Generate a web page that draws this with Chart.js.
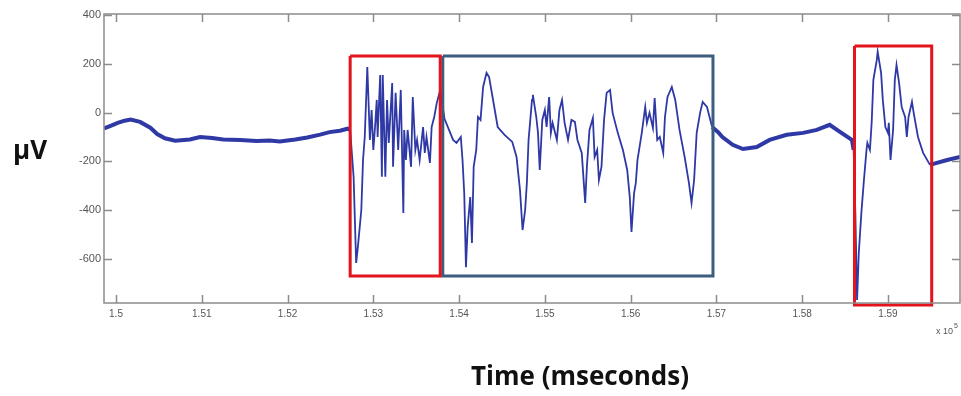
<!DOCTYPE html>
<html>
<head>
<meta charset="utf-8">
<script src="https://cdn.jsdelivr.net/npm/chart.js@4.4.1/dist/chart.umd.min.js"></script>
<style>
  html, body { margin: 0; padding: 0; background: #fff; }
  #wrap { width: 961px; height: 396px; position: relative; }
</style>
</head>
<body>
<div id="wrap"><canvas id="eeg" width="961" height="396"></canvas></div>
<script>
// time in ms
const timeMs = [
  149860, 149930, 150020, 150100, 150170, 150280, 150400, 150480, 150570, 150690,
  150860, 150980, 151120, 151250, 151450, 151640, 151790, 151910, 152090, 152230,
  152380, 152490, 152610, 152700,
  // first red box
  152730, 152770, 152800, 152820, 152860, 152880, 152900, 152930, 152960, 152980,
  153000, 153020, 153040, 153050, 153080, 153100, 153110, 153140, 153160, 153180,
  153220, 153230, 153260, 153290, 153320, 153350, 153360, 153380, 153400, 153440,
  153460, 153490, 153510, 153540, 153580, 153600, 153620, 153660, 153680, 153710,
  153740, 153780,
  // blue box
  153830, 153930, 153970, 154020, 154040, 154060, 154080, 154100, 154130, 154150,
  154170, 154200, 154220, 154250, 154280, 154320, 154350, 154390, 154450, 154530,
  154620, 154670, 154710, 154740, 154770, 154790, 154810, 154850, 154860, 154900,
  154920, 154940, 154970, 155000, 155020, 155050, 155070, 155090, 155140, 155170,
  155200, 155230, 155270, 155310, 155350, 155380, 155430, 155470, 155490, 155520,
  155560, 155580, 155610, 155630, 155660, 155690, 155720, 155760, 155790, 155850,
  155910, 155960, 155990, 156010, 156040, 156060, 156080, 156130, 156170, 156190,
  156220, 156260, 156280, 156310, 156340, 156380, 156400, 156430, 156480, 156520,
  156570, 156630, 156680, 156710, 156740, 156770, 156810, 156840, 156890, 156950,
  // quiet stretch
  157020, 157070, 157190, 157310, 157470, 157620, 157820, 158010, 158170, 158320,
  158440, 158580,
  // second red box
  158600, 158620, 158640, 158660, 158690, 158720, 158750, 158760, 158790, 158810,
  158830, 158870, 158880, 158920, 158940, 158970, 159000, 159010, 159030, 159060,
  159080, 159100, 159130, 159160, 159200, 159220, 159240, 159280, 159300, 159350,
  159410, 159490, 159570, 159690, 159840
];
const microVolts = [
  -65, -55, -42, -33, -28, -38, -62, -88, -105, -115,
  -110, -100, -104, -110, -112, -116, -114, -118, -110, -102,
  -90, -80, -74, -66,
  -71, -263, -616, -550, -399, -194, -100, 187, -112, 11,
  -153, -59, 52, -100, 154, -263, 154, -263, 52, -124,
  121, -222, 81, -153, 93, -411, -71, -194, -71, -222,
  64, -153, -112, -194, -59, -165, -100, -206, -59, -18,
  40, 93,
  -25, -112, -124, -100, -194, -330, -633, -469, -346, -534,
  -222, -153, -18, -30, 105, 163, 146, 64, -59, -91,
  -120, -182, -317, -481, -399, -289, -112, 52, 73, -18,
  -83, -235, -30, 11, -59, 64, -83, -42, -112, 11,
  52, -42, -112, -30, -38, -112, -165, -370, -222, -71,
  -22, -182, -153, -276, -222, -30, 81, 93, -1, -83,
  -153, -235, -346, -489, -330, -289, -194, -83, 23, -42,
  -1, -63, 60, -112, -100, -165, -18, 64, 105, 52,
  -71, -182, -289, -370, -276, -83, -1, 44, 23, -59,
  -80, -100, -132, -149, -141, -112, -91, -83, -71, -50,
  -79, -112,
  -153, -411, -768, -575, -411, -276, -153, -124, -153, -42,
  134, 216, 249, 163, 52, -59, -83, -42, -194, -71,
  134, 195, 121, 23, -18, -100, -18, 44, -1, -100,
  -165, -214, -206, -194, -182
];

// highlighted windows: [start ms, end ms, low µV, high µV]
const redBoxA = [152730, 153780, -669, 232];
const blueBox = [153810, 156960, -669, 232];
const redBoxB = [158610, 159510, -788, 273];

const xTicks = [150000, 151000, 152000, 153000, 154000, 155000, 156000, 157000, 158000, 159000];
const xTickLabels = ['1.5', '1.51', '1.52', '1.53', '1.54', '1.55', '1.56', '1.57', '1.58', '1.59'];
const yTicks = [-600, -400, -200, 0, 200, 400];

const X_MIN = 149860, X_MAX = 159840;
const Y_MIN = -780, Y_MAX = 404;

// quiet (baseline) parts are drawn thicker, the noise makes them look fat
const quietRanges = [[X_MIN, 152720], [156950, 158590], [159490, X_MAX]];
function isQuiet(t) {
    return quietRanges.some(r => t >= r[0] && t < r[1]);
}

function boxPoints(b) {
    return [
        {x: b[0], y: b[3]}, {x: b[1], y: b[3]}, {x: b[1], y: b[2]},
        {x: b[0], y: b[2]}, {x: b[0], y: b[3]}
    ];
}

function boxDataset(b, color) {
    return {
        data: boxPoints(b),
        borderColor: color,
        borderWidth: 3,
        pointRadius: 0,
        borderJoinStyle: 'miter',
        fill: false,
        tension: 0,
        clip: 6
    };
}

const AXIS_GRAY = '#8c8c8c';

const frameAndText = {
    id: 'frameAndText',
    afterDatasetsDraw(chart) {
        const ctx = chart.ctx;
        const a = chart.chartArea;
        const xs = chart.scales.x, ys = chart.scales.y;
        ctx.save();
        ctx.strokeStyle = AXIS_GRAY;
        ctx.lineWidth = 1.5;
        ctx.strokeRect(a.left, a.top, a.right - a.left, a.bottom - a.top);
        ctx.beginPath();
        xTicks.forEach(t => {
            let px = Math.round(xs.getPixelForValue(t)) + 0.5;
            ctx.moveTo(px, a.bottom); ctx.lineTo(px, a.bottom - 8);
            ctx.moveTo(px, a.top); ctx.lineTo(px, a.top + 8);
        });
        yTicks.forEach(v => {
            let py = Math.round(ys.getPixelForValue(v)) + 0.5;
            ctx.moveTo(a.left, py); ctx.lineTo(a.left + 8, py);
            ctx.moveTo(a.right, py); ctx.lineTo(a.right - 8, py);
        });
        ctx.stroke();

        // exponent label
        ctx.fillStyle = '#555';
        ctx.font = '9px "Liberation Sans"';
        ctx.textBaseline = 'alphabetic';
        ctx.textAlign = 'left';
        ctx.fillText('x 10', 936, 334);
        ctx.font = '7px "Liberation Sans"';
        ctx.fillText('5', 954, 328);

        // axis titles
        ctx.fillStyle = '#111';
        ctx.font = 'bold 26px "Open Sans"';
        ctx.textAlign = 'center';
        ctx.textBaseline = 'middle';
        ctx.fillText('\u00b5V', 30, 152);
        ctx.fillText('Time (mseconds)', 580, 378);
        ctx.restore();
    }
};

let ctx = document.getElementById('eeg').getContext('2d');
let chartEEG = new Chart(ctx, {
    type: 'line',
    data: {
        datasets: [
            boxDataset(redBoxA, '#e3141b'),
            boxDataset(blueBox, '#3c5d7f'),
            boxDataset(redBoxB, '#e3141b'),
            {
                data: timeMs.map((t, i) => ({x: t, y: microVolts[i]})),
                borderColor: '#2f39a6',
                borderWidth: 1.8,
                pointRadius: 0,
                tension: 0,
                fill: false,
                segment: {
                    borderWidth: c => isQuiet(c.p0.parsed.x) ? 4 : 1.8
                }
            }
        ]
    },
    options: {
        responsive: false,
        animation: false,
        events: [],
        layout: { padding: { left: 0, top: 14, right: 1, bottom: 0 } },
        plugins: { legend: { display: false }, tooltip: { enabled: false } },
        scales: {
            x: {
                type: 'linear',
                min: X_MIN,
                max: X_MAX,
                afterFit: s => { s.height = 93; },
                afterBuildTicks: s => { s.ticks = xTicks.map(v => ({value: v})); },
                grid: { display: false, drawTicks: false },
                border: { display: false },
                ticks: {
                    padding: 5,
                    maxRotation: 0,
                    autoSkip: false,
                    color: '#555',
                    font: { family: 'Liberation Sans', size: 10 },
                    callback: v => xTickLabels[xTicks.indexOf(v)]
                }
            },
            y: {
                min: Y_MIN,
                max: Y_MAX,
                afterFit: s => { s.width = 104; },
                afterBuildTicks: s => { s.ticks = yTicks.map(v => ({value: v})); },
                grid: { display: false, drawTicks: false },
                border: { display: false },
                ticks: {
                    padding: 3,
                    autoSkip: false,
                    color: '#555',
                    font: { family: 'Liberation Sans', size: 11 }
                }
            }
        }
    },
    plugins: [frameAndText]
});
</script>
</body>
</html>
